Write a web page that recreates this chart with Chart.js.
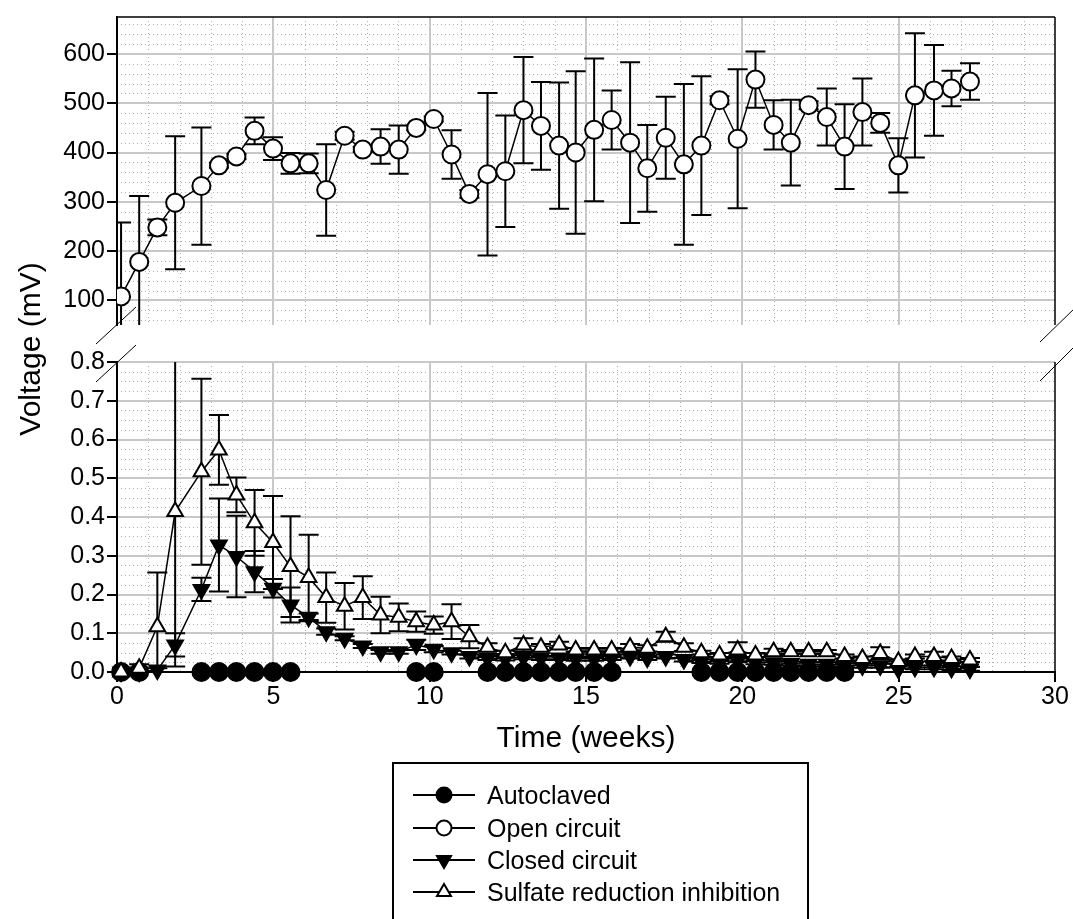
<!DOCTYPE html>
<html>
<head>
<meta charset="utf-8">
<script src="https://cdn.jsdelivr.net/npm/chart.js@4.4.1/dist/chart.umd.min.js"></script>
<style>
  body { margin: 0; background: #fff; }
  #wrap { position: relative; width: 1073px; height: 919px; overflow: hidden; font-family: "Liberation Sans", Arial, sans-serif; }
  canvas { position: absolute; left: 0; }
  #ytitle { position: absolute; left: 30px; top: 349px; transform: translate(-50%, -50%) rotate(-90deg); font-size: 30px; white-space: nowrap; }
  #legend { position: absolute; left: 392px; top: 762px; width: 417px; height: 180px; box-sizing: border-box; border: 2px solid #000; }
  .row { position: absolute; left: 0; height: 32px; width: 100%; }
  .row svg { position: absolute; left: 19px; top: 0; }
  .row span { position: absolute; left: 93px; top: 0; line-height: 32px; font-size: 25px; white-space: nowrap; }
  #breaks { position: absolute; left: 0; top: 0; pointer-events: none; }
</style>
</head>
<body>
<div id="wrap">
  <canvas id="top" width="1073" height="345" style="top:0"></canvas>
  <canvas id="bottom" width="1073" height="415" style="top:345px"></canvas>
  <div id="ytitle">Voltage (mV)</div>
  <svg id="breaks" width="1073" height="919">
    <g stroke="#000" stroke-width="1">
      <line x1="96" y1="344" x2="136" y2="307"/>
      <line x1="96" y1="382" x2="136" y2="345"/>
      <line x1="1040" y1="342" x2="1076" y2="307"/>
      <line x1="1040" y1="381" x2="1076" y2="345"/>
    </g>
  </svg>
  <div id="legend">
    <div class="row" style="top:15px">
      <svg width="62" height="32"><line x1="0" y1="16" x2="62" y2="16" stroke="#000" stroke-width="2"/><circle cx="31" cy="16" r="7.5" fill="#000" stroke="#000" stroke-width="2"/></svg>
      <span>Autoclaved</span>
    </div>
    <div class="row" style="top:48px">
      <svg width="62" height="32"><line x1="0" y1="16" x2="62" y2="16" stroke="#000" stroke-width="2"/><circle cx="31" cy="16" r="7.5" fill="#fff" stroke="#000" stroke-width="2"/></svg>
      <span>Open circuit</span>
    </div>
    <div class="row" style="top:80px">
      <svg width="62" height="32"><line x1="0" y1="16" x2="62" y2="16" stroke="#000" stroke-width="2"/><polygon points="31,24 38,12 24,12" fill="#000" stroke="#000" stroke-width="2"/></svg>
      <span>Closed circuit</span>
    </div>
    <div class="row" style="top:112px">
      <svg width="62" height="32"><line x1="0" y1="16" x2="62" y2="16" stroke="#000" stroke-width="2"/><polygon points="31,8 38,20 24,20" fill="#fff" stroke="#000" stroke-width="2"/></svg>
      <span>Sulfate reduction inhibition</span>
    </div>
  </div>
</div>
<script>
// weeks of each measurement
var weeks = [0.13, 0.71, 1.29, 1.86, 2.70, 3.26, 3.82, 4.40, 4.99, 5.55, 6.13, 6.69, 7.28, 7.86, 8.43, 9.01,
    9.57, 10.13, 10.70, 11.27, 11.85, 12.42, 13.00, 13.56, 14.14, 14.67, 15.26, 15.82, 16.41, 16.96, 17.55, 18.13,
    18.69, 19.27, 19.85, 20.42, 21.00, 21.55, 22.12, 22.70, 23.27, 23.84, 24.41, 24.99, 25.52, 26.13, 26.69, 27.28];
// Open circuit (mV)
var openCircuit = [108, 178, 248, 298, 332, 374, 392, 444, 408, 378, 378, 324, 434, 406, 412, 406,
    450, 468, 396, 316, 356, 362, 486, 454, 414, 400, 446, 466, 420, 368, 430, 376,
    414, 506, 428, 548, 456, 420, 496, 472, 412, 482, 460, 374, 516, 526, 530, 544];
var openCircuitErr = [150, 134, 16, 135, 119, 5, 5, 27, 23, 21, 20, 93, 8, 5, 35, 49,
    5, 5, 49, 8, 165, 113, 108, 89, 128, 165, 145, 60, 163, 88, 83, 163,
    141, 8, 141, 57, 50, 87, 8, 58, 86, 68, 20, 55, 126, 92, 36, 37];
// Closed circuit (V)
var closedCircuit = [0.0, 0.0, 0.005, 0.07, 0.213, 0.328, 0.298, 0.259, 0.216, 0.173, 0.141, 0.104, 0.087, 0.067, 0.052, 0.052,
    0.07, 0.059, 0.05, 0.04, 0.036, 0.035, 0.038, 0.036, 0.036, 0.034, 0.034, 0.036, 0.04, 0.036, 0.04, 0.032,
    0.028, 0.026, 0.03, 0.025, 0.024, 0.022, 0.02, 0.02, 0.018, 0.016, 0.016, 0.008, 0.012, 0.012, 0.01, 0.008];
var closedCircuitErr = [0, 0, 0.005, 0.03, 0.03, 0.12, 0.105, 0.053, 0.024, 0.045, 0.01, 0.008, 0.005, 0.005, 0.005, 0.005,
    0.013, 0.008, 0.005, 0.005, 0.005, 0.005, 0.005, 0.005, 0.005, 0.005, 0.005, 0.005, 0.005, 0.005, 0.005, 0.005,
    0.005, 0.005, 0.005, 0.005, 0.005, 0.005, 0.005, 0.005, 0.005, 0.005, 0.005, 0.02, 0.005, 0.005, 0.005, 0.005];
// Sulfate reduction inhibition (V)
var sulfate = [0.0, 0.01, 0.117, 0.414, 0.517, 0.573, 0.457, 0.385, 0.334, 0.272, 0.244, 0.192, 0.170, 0.192, 0.147, 0.141,
    0.130, 0.121, 0.130, 0.091, 0.064, 0.050, 0.070, 0.064, 0.070, 0.057, 0.057, 0.057, 0.064, 0.061, 0.091, 0.064,
    0.050, 0.044, 0.057, 0.044, 0.052, 0.052, 0.052, 0.052, 0.040, 0.035, 0.048, 0.027, 0.040, 0.040, 0.035, 0.031];
var sulfateErr = [0, 0.01, 0.14, 0.40, 0.24, 0.09, 0.045, 0.085, 0.12, 0.13, 0.11, 0.065, 0.06, 0.055, 0.047, 0.036,
    0.026, 0.022, 0.045, 0.03, 0.01, 0.005, 0.017, 0.008, 0.008, 0.005, 0.005, 0.005, 0.008, 0.008, 0.013, 0.01,
    0.005, 0.005, 0.02, 0.005, 0.008, 0.005, 0.005, 0.005, 0.005, 0.005, 0.016, 0.005, 0.005, 0.012, 0.005, 0.005];
// Autoclaved (V)
var autoclavedWeeks = [0.13, 0.71, 2.70, 3.26, 3.82, 4.40, 4.99, 5.55, 9.57, 10.13, 11.85, 12.42, 13.00, 13.56,
    14.14, 14.67, 15.26, 15.82, 18.69, 19.27, 19.85, 20.42, 21.00, 21.55, 22.12, 22.70, 23.27];
var autoclaved = [0, 0, 0, 0, 0, 0, 0, 0, 0, 0, 0, 0, 0, 0, 0, 0, 0, 0, 0, 0, 0, 0, 0, 0, 0, 0, 0];

var topTicks = [100, 200, 300, 400, 500, 600];
var bottomTicks = [0, 0.1, 0.2, 0.3, 0.4, 0.5, 0.6, 0.7, 0.8];
var xTicks = [0, 5, 10, 15, 20, 25, 30];

var FONT = "'Liberation Sans', Arial, sans-serif";
var GRID = '#c8c8c8';

function punkte(xs, ys) {
    return xs.map((x, i) => ({ x: x, y: ys[i] }));
}

//Fehlerbalken
var errorBars = {
    id: 'errorBars',
    beforeDatasetsDraw(chart) {
        var ctx = chart.ctx, a = chart.chartArea;
        var xs = chart.scales.x, ys = chart.scales.y;
        ctx.save();
        ctx.beginPath();
        ctx.rect(a.left, a.top, a.right - a.left, a.bottom - a.top);
        ctx.clip();
        ctx.strokeStyle = '#000';
        ctx.lineWidth = 2;
        chart.data.datasets.forEach(ds => {
            if (!ds.errors) return;
            ds.data.forEach((p, i) => {
                var e = ds.errors[i];
                if (!e) return;
                var px = xs.getPixelForValue(p.x);
                var y1 = ys.getPixelForValue(p.y + e);
                var y2 = ys.getPixelForValue(p.y - e);
                ctx.beginPath();
                ctx.moveTo(px, y1); ctx.lineTo(px, y2);
                ctx.moveTo(px - 10, y1); ctx.lineTo(px + 10, y1);
                ctx.moveTo(px - 10, y2); ctx.lineTo(px + 10, y2);
                ctx.stroke();
            });
        });
        ctx.restore();
    }
};

//feines punktiertes Gitter
var minorGrid = {
    id: 'minorGrid',
    beforeDraw(chart, args, opts) {
        var ctx = chart.ctx, a = chart.chartArea;
        var xs = chart.scales.x, ys = chart.scales.y;
        ctx.save();
        ctx.strokeStyle = '#b0b0b0';
        ctx.lineWidth = 1;
        ctx.setLineDash([1, 3]);
        ctx.beginPath();
        for (var v = xs.min + opts.xStep; v < xs.max; v += opts.xStep) {
            var px = Math.round(xs.getPixelForValue(v)) + 0.5;
            ctx.moveTo(px, a.top); ctx.lineTo(px, a.bottom);
        }
        for (var w = opts.yStart; w < ys.max; w += opts.yStep) {
            var py = Math.round(ys.getPixelForValue(w)) + 0.5;
            ctx.moveTo(a.left, py); ctx.lineTo(a.right, py);
        }
        ctx.stroke();
        ctx.restore();
    }
};

//Rahmen oben / rechts
var frame = {
    id: 'frame',
    afterDatasetsDraw(chart, args, opts) {
        var ctx = chart.ctx, a = chart.chartArea;
        ctx.save();
        ctx.strokeStyle = '#000';
        ctx.lineWidth = 1.5;
        ctx.beginPath();
        if (opts.top) {
            ctx.moveTo(a.left, a.top); ctx.lineTo(a.right, a.top);
        }
        ctx.moveTo(a.right, a.top); ctx.lineTo(a.right, a.bottom);
        ctx.stroke();
        ctx.restore();
    }
};

function xScale(showLabels) {
    return {
        type: 'linear',
        min: 0,
        max: 30,
        afterBuildTicks: s => { s.ticks = xTicks.map(v => ({ value: v })); },
        ticks: {
            display: showLabels,
            color: '#000',
            padding: 0,
            font: { family: FONT, size: 25 }
        },
        grid: {
            color: c => (c.tick && (c.tick.value === 0 || c.tick.value === 30)) ? 'rgba(0,0,0,0)' : GRID,
            lineWidth: 2,
            drawTicks: showLabels,
            tickLength: 10,
            tickColor: '#000',
            tickWidth: 2
        },
        border: { display: showLabels, color: '#000', width: 2 },
        title: {
            display: showLabels,
            text: 'Time (weeks)',
            color: '#000',
            font: { family: FONT, size: 30 },
            padding: { top: 0, bottom: 3 }
        },
        afterFit: s => { s.height = showLabels ? 88 : 0; }
    };
}

function yScale(min, max, ticks, fmt) {
    return {
        type: 'linear',
        min: min,
        max: max,
        afterBuildTicks: s => { s.ticks = ticks.map(v => ({ value: v })); },
        ticks: {
            color: '#000',
            padding: 2,
            font: { family: FONT, size: 25 },
            callback: fmt
        },
        grid: {
            color: c => (c.tick && c.tick.value === 0) ? 'rgba(0,0,0,0)' : GRID,
            lineWidth: 2,
            tickLength: 10,
            tickColor: '#000',
            tickWidth: 2
        },
        border: { color: '#000', width: 2 },
        afterFit: s => { s.width = 117; }
    };
}

new Chart(document.getElementById('top'), {
    type: 'line',
    data: {
        datasets: [{
            label: 'Open circuit',
            data: punkte(weeks, openCircuit),
            errors: openCircuitErr,
            borderColor: '#000',
            borderWidth: 1.5,
            pointStyle: 'circle',
            pointRadius: 9,
            pointBackgroundColor: '#fff',
            pointBorderColor: '#000',
            pointBorderWidth: 2,
            tension: 0
        }]
    },
    options: {
        responsive: false,
        animation: false,
        layout: { padding: { top: 15, right: 18, bottom: 20, left: 0 } },
        scales: {
            x: xScale(false),
            y: yScale(50, 675, topTicks, v => v)
        },
        plugins: {
            legend: { display: false },
            tooltip: { enabled: false },
            minorGrid: { xStep: 1, yStart: 60, yStep: 20 },
            frame: { top: true }
        }
    },
    plugins: [minorGrid, errorBars, frame]
});

new Chart(document.getElementById('bottom'), {
    type: 'line',
    data: {
        datasets: [{
            label: 'Sulfate reduction inhibition',
            data: punkte(weeks, sulfate),
            errors: sulfateErr,
            borderColor: '#000',
            borderWidth: 1.5,
            pointStyle: 'triangle',
            pointRadius: 9,
            pointBackgroundColor: '#fff',
            pointBorderColor: '#000',
            pointBorderWidth: 2,
            tension: 0,
            clip: false
        }, {
            label: 'Closed circuit',
            data: punkte(weeks, closedCircuit),
            errors: closedCircuitErr,
            borderColor: '#000',
            borderWidth: 1.5,
            pointStyle: 'triangle',
            pointRotation: 180,
            pointRadius: 9,
            pointBackgroundColor: '#000',
            pointBorderColor: '#000',
            pointBorderWidth: 2,
            tension: 0,
            clip: false
        }, {
            label: 'Autoclaved',
            data: punkte(autoclavedWeeks, autoclaved),
            borderColor: '#000',
            borderWidth: 1.5,
            pointStyle: 'circle',
            pointRadius: 9,
            pointBackgroundColor: '#000',
            pointBorderColor: '#000',
            pointBorderWidth: 2,
            tension: 0,
            clip: false
        }]
    },
    options: {
        responsive: false,
        animation: false,
        layout: { padding: { top: 17, right: 18, bottom: 0, left: 0 } },
        scales: {
            x: xScale(true),
            y: yScale(0, 0.8, bottomTicks, v => v.toFixed(1))
        },
        plugins: {
            legend: { display: false },
            tooltip: { enabled: false },
            minorGrid: { xStep: 1, yStart: 0.025, yStep: 0.025 },
            frame: { top: false }
        }
    },
    plugins: [minorGrid, errorBars, frame]
});
</script>
</body>
</html>
